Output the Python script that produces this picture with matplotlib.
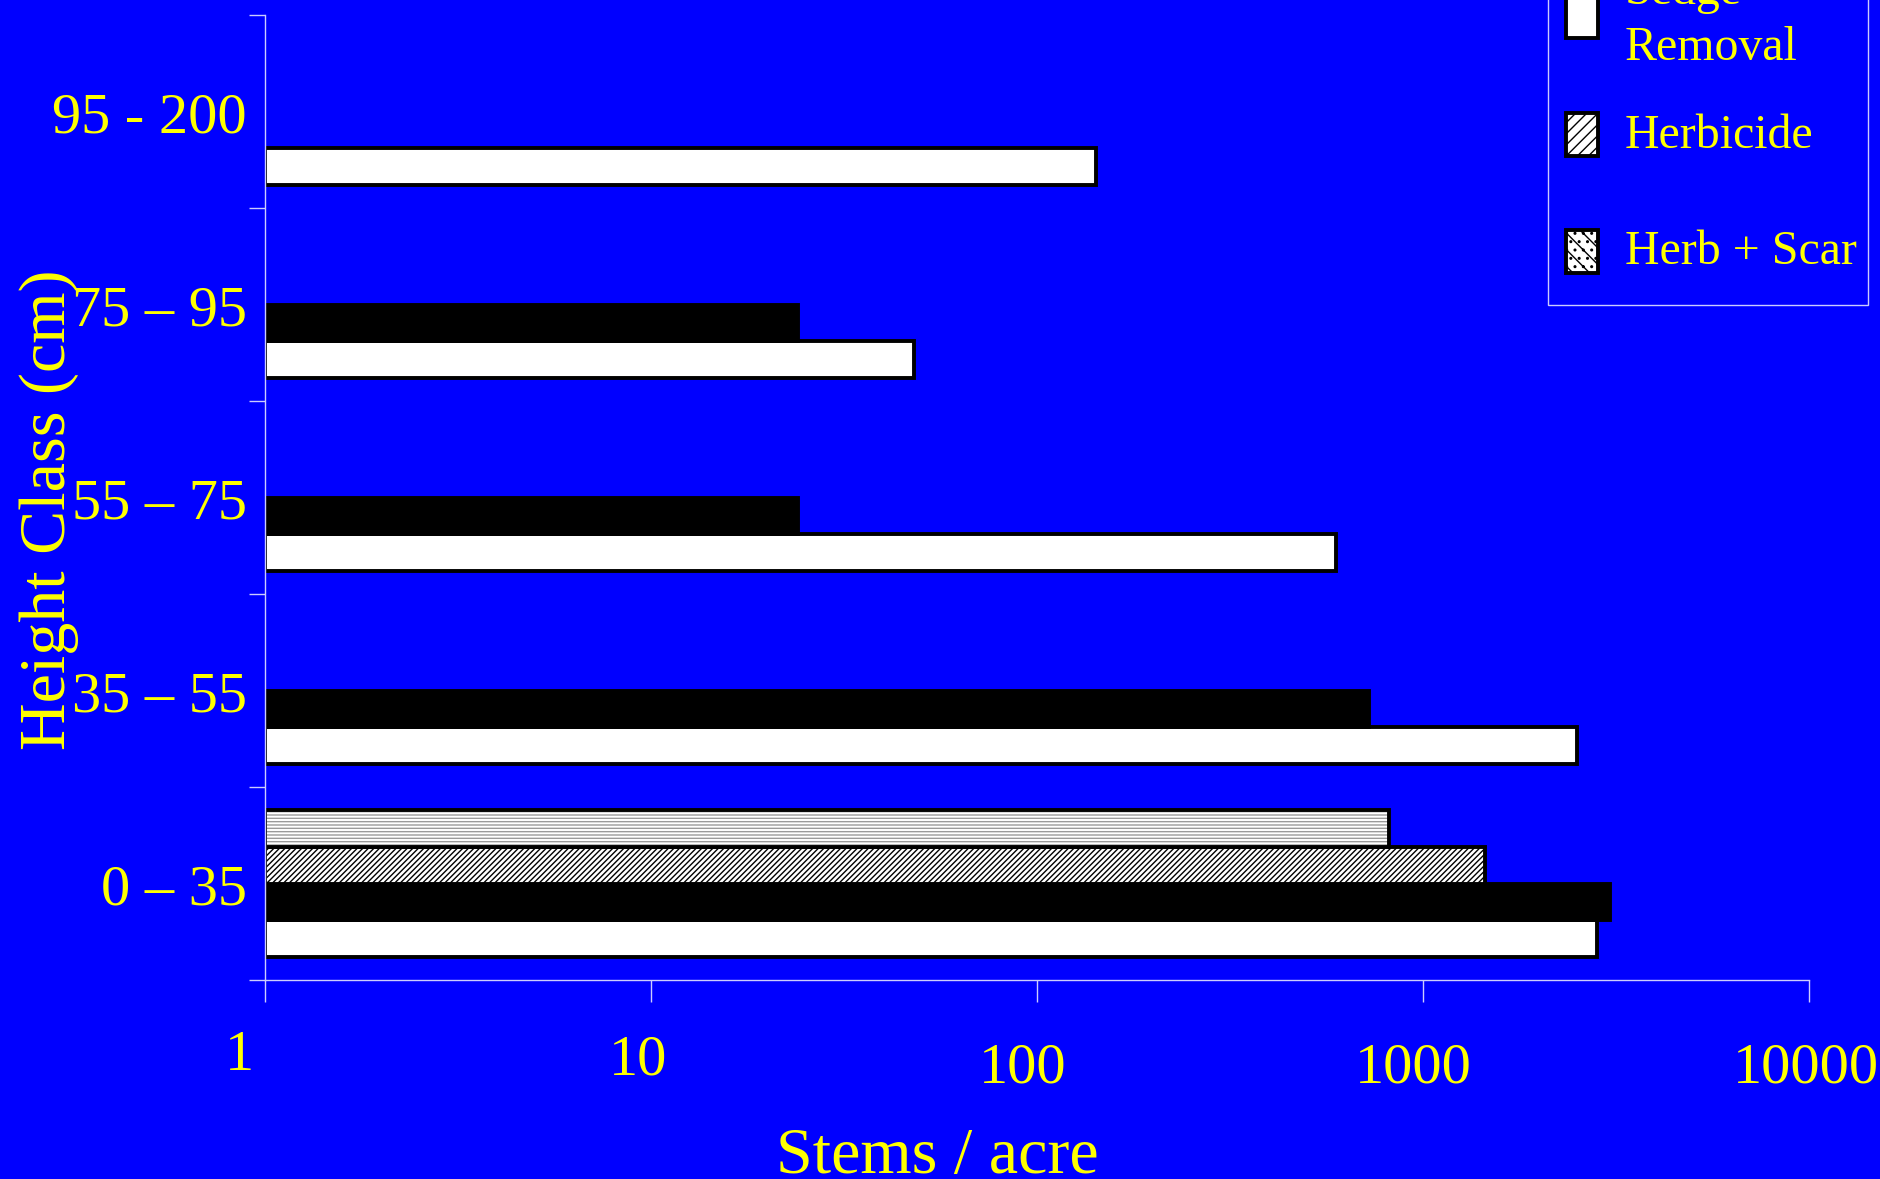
import numpy as np
import matplotlib
matplotlib.use('Agg')
import matplotlib.pyplot as plt
from matplotlib.patches import Rectangle
from matplotlib.transforms import ScaledTranslation

# Height classes (bottom to top) and stems/acre for each treatment
categories = ['0 – 35', '35 – 55', '55 – 75', '75 – 95', '95 - 200']
sedge_removal = [2820, 2500, 595, 48, 142]
control = [3060, 726, 24, 24, np.nan]
herbicide = [1450, np.nan, np.nan, np.nan, np.nan]
herb_scar = [817, np.nan, np.nan, np.nan, np.nan]
x_ticks = [1, 10, 100, 1000, 10000]

plt.rcParams['font.family'] = ['Liberation Serif', 'DejaVu Serif']
BLUE = '#0000ff'
YELLOW = '#ffff00'
AXIS = '#ccccff'
W, H = 1881, 1179

fig = plt.figure(figsize=(W/100, H/100), dpi=100, facecolor=BLUE)
ax = fig.add_axes([265/W, 1 - 980/H, 1544/W, 965/H])
ax.set_facecolor(BLUE)

y = np.arange(len(categories))
h = 0.19
lw = 2.8

def bars(vals, offset, **kw):
    w = np.array(vals, dtype=float) - 1
    return ax.barh(y + offset, w, left=1, height=h, **kw)

bars(sedge_removal, -1.5*h, color='white', edgecolor='black', linewidth=lw)
bars(control, -0.5*h, color='black', edgecolor='black', linewidth=lw)
bars(herbicide, 0.5*h, color='white', edgecolor='black', linewidth=lw, hatch='//////')
# herb + scar: light grey stripes, then black outline on top
bars(herb_scar, 1.5*h, color='white', edgecolor='#9a9a9a', linewidth=0, hatch='-----')
bars(herb_scar, 1.5*h, fill=False, edgecolor='black', linewidth=lw)

ax.set_xscale('log')
ax.set_xlim(1, 10000)
ax.set_ylim(-0.5, 4.5)

ax.set_xticks(x_ticks)
ax.set_xticklabels([str(t) for t in x_ticks])
ax.xaxis.set_minor_locator(matplotlib.ticker.NullLocator())
ax.tick_params(axis='x', which='major', direction='out', length=16, width=1,
               color=AXIS, labelcolor=YELLOW, labelsize=42, pad=29)

ax.set_yticks(np.arange(-0.5, 5, 1))
ax.set_yticklabels([])
ax.set_yticks(y, minor=True)
ax.set_yticklabels(categories, minor=True)
ax.tick_params(axis='y', which='major', direction='out', length=11.5, width=1, color=AXIS)
ax.tick_params(axis='y', which='minor', length=0, labelcolor=YELLOW, labelsize=42, pad=13)
for lbl in ax.get_yticklabels(minor=True):
    lbl.set_transform(lbl.get_transform() + ScaledTranslation(0, -0.01, fig.dpi_scale_trans))

# small offsets of the x tick labels as in the original
offsets = [(-26, 12), (-13, 8), (-14, 0), (-10, 0), (-3, 0)]
for lbl, (dx, dy) in zip(ax.get_xticklabels(), offsets):
    lbl.set_transform(lbl.get_transform() + ScaledTranslation(dx/100, dy/100, fig.dpi_scale_trans))

for s in ['top', 'right']:
    ax.spines[s].set_visible(False)
for s in ['left', 'bottom']:
    ax.spines[s].set_color(AXIS)
    ax.spines[s].set_linewidth(1)

fig.text(49/W, 1 - 510/H, 'Height Class (cm)', rotation=90, ha='center', va='center',
         color=YELLOW, fontsize=47.5)
fig.text(937/W, 1 - 1173/H, 'Stems / acre', ha='center', va='baseline',
         color=YELLOW, fontsize=47.5)

# legend box (top runs off the page, as in the original slide)
def fx(px):
    return px / W

def fy(py):
    return 1 - py / H

fig.patches.append(Rectangle((fx(1548), fy(305)), fx(1868) - fx(1548), fy(-60) - fy(305),
                             transform=fig.transFigure, facecolor=BLUE, edgecolor=AXIS,
                             linewidth=1, zorder=5))
legend_items = [
    ('Sedge\nRemoval', dict(facecolor='white'), -20, 38, 20),
    ('Herbicide', dict(facecolor='white', hatch='///'), 113, 156, 136),
    ('Herb + Scar', dict(facecolor='white', hatch='\\\\..'), 230, 273, 252),
]
for label, style, top, bottom, ty in legend_items:
    fig.patches.append(Rectangle((fx(1566), fy(bottom)), fx(1598) - fx(1566), fy(top) - fy(bottom),
                                 transform=fig.transFigure, edgecolor='black', linewidth=lw,
                                 zorder=6, **style))
    fig.text(fx(1625), fy(ty), label, ha='left', va='center', color=YELLOW,
             fontsize=34.5, linespacing=1.35, zorder=6)

fig.savefig('out.png', dpi=100, facecolor=BLUE)
